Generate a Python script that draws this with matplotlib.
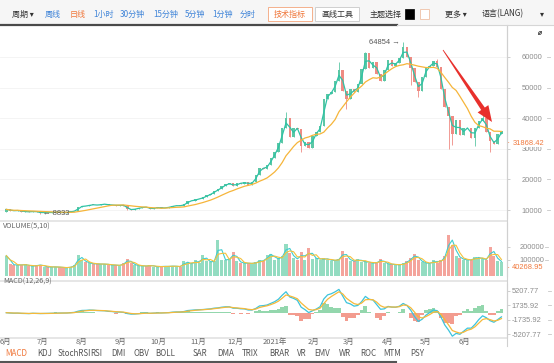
import numpy as np
import pandas as pd
import matplotlib
matplotlib.use("Agg")
import matplotlib.pyplot as plt
from matplotlib.patches import Rectangle, Polygon, FancyArrowPatch
from matplotlib.lines import Line2D

plt.rcParams['font.family'] = ['Noto Sans CJK SC', 'DejaVu Sans']

# ---- data: 3-day candles, 2020-06-01 .. 2021-06-29
start_date = "2020-06-01"
first_open = 9450
close = [
    10200, 9800, 9750, 9900, 9470, 9520, 9300, 9680, 9250, 9100,
    9230, 9130, 9250, 9280, 9240, 9130, 9200, 9530, 9700, 10950,
    11350, 11230, 11750, 11680, 11570, 11850, 11950, 11520, 11750, 11330,
    11700, 11400, 10200, 10100, 10400, 10680, 10950, 10930, 10250, 10730,
    10840, 10570, 10790, 10930, 11380, 11430, 11360, 11920, 12990, 13030,
    13460, 13740, 14150, 14820, 15300, 16300, 16700, 17800, 18400, 18750,
    17700, 18800, 18650, 19150, 18300, 19150, 21300, 23850, 23400, 24650,
    27000, 28950, 32000, 36700, 40200, 33900, 36800, 36600, 30800, 32300,
    30400, 34300, 35500, 37600, 46200, 47900, 48700, 52100, 55900, 48800,
    46300, 49600, 48400, 51200, 56000, 61200, 56300, 58400, 54500, 52300,
    55800, 58900, 57200, 58100, 59800, 63200, 60000, 56300, 51700, 49000,
    53600, 56600, 57200, 58800, 56700, 49700, 43500, 40600, 34700, 39300,
    34600, 36700, 36900, 33600, 36700, 39100, 40200, 35500, 32500, 31600,
    34700, 35900,
]
volume = [
    130000, 65000, 55000, 60000, 58000, 62000, 48000, 50000, 55000, 60000,
    45000, 40000, 45000, 42000, 40000, 38000, 36000, 45000, 55000, 136000,
    95000, 80000, 70000, 65000, 68000, 62000, 66000, 60000, 55000, 58000,
    52000, 75000, 102000, 70000, 55000, 50000, 52000, 48000, 58000, 45000,
    42000, 50000, 45000, 48000, 50000, 46000, 44000, 88000, 70000, 65000,
    95000, 72000, 136000, 85000, 80000, 90000, 250000, 100000, 95000, 105000,
    160000, 88000, 75000, 70000, 72000, 68000, 80000, 95000, 85000, 136000,
    143000, 100000, 110000, 128000, 220000, 150000, 110000, 100000, 157000, 100000,
    190000, 105000, 114000, 95000, 110000, 100000, 90000, 95000, 105000, 166000,
    110000, 90000, 85000, 107000, 80000, 85000, 75000, 70000, 80000, 102000,
    70000, 65000, 62000, 60000, 58000, 70000, 88000, 110000, 143000, 95000,
    80000, 70000, 68000, 95000, 72000, 100000, 130000, 285000, 214000, 130000,
    110000, 95000, 100000, 95000, 121000, 110000, 105000, 95000, 193000, 130000,
    90000, 80000,
]
# wick extremes that stand out (candle index -> price)
wick_high = {74: 41950, 88: 58300, 95: 61700, 105: 64854, 114: 59500, 126: 41300}
wick_low = {9: 8833, 32: 9900, 78: 28800, 90: 43000, 107: 51000, 109: 47000,
            117: 30000, 118: 31100, 124: 31000, 128: 28800}
last_price = 31868.42
last_volume = 40268.95
price_ticks = [10000, 20000, 30000, 40000, 50000, 60000]
volume_ticks = [100000, 200000]
macd_ticks = [5207.77, 1735.92, -1735.92, -5207.77]

# ---- derived series
close = np.array(close, float)
volume = np.array(volume, float)
n = len(close)
dates = pd.date_range(start_date, periods=n, freq="3D")
day = (dates - dates[0]).days.values + 1  # candle centre, in days
opn = np.concatenate([[first_open], close[:-1]])
high = np.maximum(opn, close)
low = np.minimum(opn, close)
for k, v in wick_high.items():
    high[k] = v
for k, v in wick_low.items():
    low[k] = v
up = close >= opn

s = pd.Series(close)
ma_fast = s.rolling(2, min_periods=1).mean()      # ~MA5 on daily bars
ma_slow = s.rolling(10, min_periods=1).mean()     # ~MA30 on daily bars
vs = pd.Series(volume)
vma5 = vs.rolling(2, min_periods=1).mean()
vma10 = vs.rolling(3, min_periods=1).mean()
ema_f = s.ewm(span=4, adjust=False).mean()        # 12/26/9 scaled to 3-day bars
ema_s = s.ewm(span=9, adjust=False).mean()
dif = ema_f - ema_s
dea = dif.ewm(span=3, adjust=False).mean()
hist = 2 * (dif - dea)

# ---- layout (pixel based)
W, H = 554, 363
fig = plt.figure(figsize=(W / 100, H / 100), dpi=100)
fig.patch.set_facecolor("white")
AXR = 507
NUM = "Liberation Sans"


def box(top, bottom, left=0, right=AXR):
    return [left / W, 1 - bottom / H, (right - left) / W, (bottom - top) / H]


def fx(x):
    return x / W


def fy(y):
    return 1 - y / H


xlim = (-4, 398.4)
UP, DOWN = "#5cc7a5", "#ef8b83"
GRAY = "#8c8c8c"
ORANGE = "#f0783c"

ax = fig.add_axes(box(27, 218))
axv = fig.add_axes(box(223, 276))
axm = fig.add_axes(box(284, 337))

for a, pad in ((ax, 8.5), (axv, 7), (axm, 1.5)):
    a.set_xlim(*xlim)
    a.set_xticks([])
    a.patch.set_alpha(0)
    for sp in ("top", "left", "bottom"):
        a.spines[sp].set_visible(False)
    a.spines["right"].set_color("#d0d0d0")
    a.yaxis.tick_right()
    a.tick_params(axis="y", length=2, width=0.6, color="#c8c8c8", pad=pad,
                  labelsize=5.4, labelcolor=GRAY)


def tick_dashes(a, ticks, x0):
    tr = a.get_yaxis_transform()
    for t in ticks:
        a.add_line(Line2D([x0, x0 + 3 / AXR], [t, t], transform=tr, color="#c8c8c8",
                          lw=0.6, clip_on=False))


# main candles
ax.set_ylim(7386, 69800)
ax.set_yticks(price_ticks)
ax.set_yticklabels([str(t) for t in price_ticks])
for t in price_ticks:
    ax.axhline(t, color="#f3f3f3", lw=0.6, zorder=0)
tick_dashes(ax, price_ticks, 547 / AXR)
cols = np.where(up, UP, DOWN)
ax.vlines(day, low, high, colors=cols, lw=0.6, zorder=2)
body = np.where(np.abs(close - opn) < 80, 80, close - opn)
ax.bar(day, body, bottom=opn, width=2.0, color=cols, lw=0, zorder=2)
ax.plot(day, ma_fast, color="#2fc3a6", lw=0.9, zorder=3)
ax.plot(day, ma_slow, color="#f6b53a", lw=0.9, zorder=3)

kmax = int(np.argmax(high))
kmin = int(np.argmin(low))
ax.text(day[kmax] - 3, high[kmax], f"{int(high[kmax])} →", ha="right", va="center",
        fontsize=5.4, color="#555555", family=[NUM, "DejaVu Sans"])
ax.text(day[kmin] + 2, low[kmin], f"← {int(low[kmin])}", ha="left", va="center",
        fontsize=5.4, color="#555555", family=[NUM, "DejaVu Sans"])

ax.text(1.0, last_price, "-", transform=ax.get_yaxis_transform(), ha="left",
        va="center", fontsize=5.4, color=ORANGE, family=NUM)
ax.text(1.012, last_price, f"{last_price:.2f}", transform=ax.get_yaxis_transform(),
        ha="left", va="center", fontsize=5.4, color=ORANGE, family=NUM,
        bbox=dict(boxstyle="square,pad=0.05", fc="white", ec="none"))

# volume (bars stand on the pane floor, like the original)
vbot, vtop = -26923, 380770
axv.set_ylim(vbot, vtop)
axv.set_yticks(volume_ticks)
axv.set_yticklabels([str(t) for t in volume_ticks])
tick_dashes(axv, volume_ticks, 545 / AXR)
vcols = np.where(up, "#93dcc1", "#f4a49c")
axv.bar(day, volume - vbot, bottom=vbot, width=2.4, color=vcols, lw=0, zorder=2)
axv.plot(day, vma5, color="#3fcdd0", lw=0.8, zorder=3)
axv.plot(day, vma10, color="#f5c13d", lw=0.8, zorder=3)
axv.text(1.0, last_volume, "-", transform=axv.get_yaxis_transform(), ha="left",
         va="center", fontsize=5.4, color=ORANGE, family=NUM)
axv.text(1.01, last_volume, f"{last_volume:.2f}", transform=axv.get_yaxis_transform(),
         ha="left", va="center", fontsize=5.4, color=ORANGE, family=NUM)

# macd
axm.set_ylim(-5818, 6872)
axm.set_yticks(macd_ticks)
axm.set_yticklabels([f"{t:.2f}" for t in macd_ticks])
tick_dashes(axm, macd_ticks, 548 / AXR)
hcols = np.where(hist >= 0, "#93d7ad", "#f39c8f")
axm.bar(day, hist, width=3.0, color=hcols, lw=0, zorder=2)
axm.plot(day, dif, color="#3cc4dc", lw=0.9, zorder=3)
axm.plot(day, dea, color="#f5b93b", lw=0.9, zorder=3)

for a in (ax, axv, axm):
    for lab in a.get_yticklabels():
        lab.set_family(NUM)

# pane titles
fig.text(fx(3), fy(227), "VOLUME(5,10)", fontsize=5.2, color="#666666", va="center")
fig.text(fx(3), fy(282), "MACD(12,26,9)", fontsize=5.2, color="#666666", va="center")

# month labels along the bottom
month_starts = pd.date_range(dates[0], dates[-1], freq="MS")
for d in month_starts:
    x_day = (d - dates[0]).days
    lab = f"{d.year}年" if d.month == 1 else f"{d.month}月"
    xp = 5 + 1.26 * x_day
    fig.text(fx(xp), fy(342), lab, fontsize=5.4, color="#666666", ha="center", va="center")

# separators and right axis line
for yy in (221, 281, 338):
    fig.add_artist(Line2D([0, fx(AXR)], [fy(yy), fy(yy)], color="#e2e2e2", lw=1.2))
fig.add_artist(Line2D([fx(AXR), fx(AXR)], [fy(25), fy(346)], color="#d0d0d0", lw=0.8))

# toolbar
fig.add_artist(Rectangle((0, fy(24)), 1, 24 / H, transform=fig.transFigure,
                         color="#f6f6f6", zorder=0))
fig.add_artist(Line2D([0, fx(397)], [fy(24.5), fy(24.5)], color="#4a4a4a", lw=1.6))
fig.add_artist(Line2D([fx(397), 1], [fy(24.5), fy(24.5)], color="#d6d6d6", lw=0.8))
BLUE = "#3f84d8"
tools = [("周期 ▾", 12, "#333333"), ("周线", 45, BLUE), ("日线", 70, ORANGE),
         ("1小时", 93, BLUE), ("30分钟", 120, BLUE), ("15分钟", 153, BLUE),
         ("5分钟", 185, BLUE), ("1分钟", 212, BLUE), ("分时", 240, BLUE),
         ("主题选择", 370, "#333333"), ("更多 ▾", 445, "#333333"),
         ("语言(LANG)", 482, "#333333"), ("▾", 540, "#333333")]
for lab, xp, c in tools:
    fig.text(fx(xp), fy(14), lab, fontsize=5.8, color=c, va="center", ha="left")
for lab, x0, x1, c, ec in [("技术指标", 268, 312, ORANGE, "#f4b08c"),
                           ("画线工具", 315, 359, "#333333", "#cfcfcf")]:
    fig.add_artist(Rectangle((fx(x0), fy(21)), (x1 - x0) / W, 14 / H,
                             transform=fig.transFigure, fc="white", ec=ec, lw=0.7))
    fig.text(fx((x0 + x1) / 2), fy(14), lab, fontsize=5.8, color=c, va="center", ha="center")
fig.add_artist(Rectangle((fx(405), fy(18.5)), 9 / W, 9 / H, transform=fig.transFigure,
                         fc="black", ec="black", lw=0.5))
fig.add_artist(Rectangle((fx(420), fy(18.5)), 9 / W, 9 / H, transform=fig.transFigure,
                         fc="white", ec="#f0c8b0", lw=0.7))
# small "expand" icon at the top right of the price pane
fig.add_artist(FancyArrowPatch((fx(536), fy(37)), (fx(544), fy(29)), transform=fig.transFigure,
                               arrowstyle="<->,head_length=1.2,head_width=1.0",
                               color="#555555", lw=0.7))

# red trend arrow
S = np.array([443.0, 50.0])
E = np.array([492.0, 122.0])
u = (E - S) / np.linalg.norm(E - S)
nrm = np.array([-u[1], u[0]])
B = E - 16 * u
pts = [S + 0.4 * nrm, B + 2.2 * nrm, B + 6.5 * nrm, E, B - 6.5 * nrm, B - 2.2 * nrm, S - 0.4 * nrm]
fig.add_artist(Polygon([(fx(p[0]), fy(p[1])) for p in pts], closed=True,
                       transform=fig.transFigure, fc="#e8302c", ec="none"))

# indicator tabs
tabs = [("MACD", 5), ("KDJ", 37), ("StochRSI", 58), ("RSI", 90), ("DMI", 111),
        ("OBV", 134), ("BOLL", 155), ("SAR", 193), ("DMA", 217), ("TRIX", 242),
        ("BRAR", 269), ("VR", 297), ("EMV", 314), ("WR", 339), ("ROC", 360),
        ("MTM", 383), ("PSY", 410)]
for i, (lab, xp) in enumerate(tabs):
    fig.text(fx(xp), fy(353), lab, fontsize=5.8, color=ORANGE if i == 0 else "#555555",
             va="center", ha="left")
fig.add_artist(Line2D([0, fx(396)], [fy(361.5), fy(361.5)], color="#555555", lw=1.5))

fig.savefig("out.png", dpi=100)
